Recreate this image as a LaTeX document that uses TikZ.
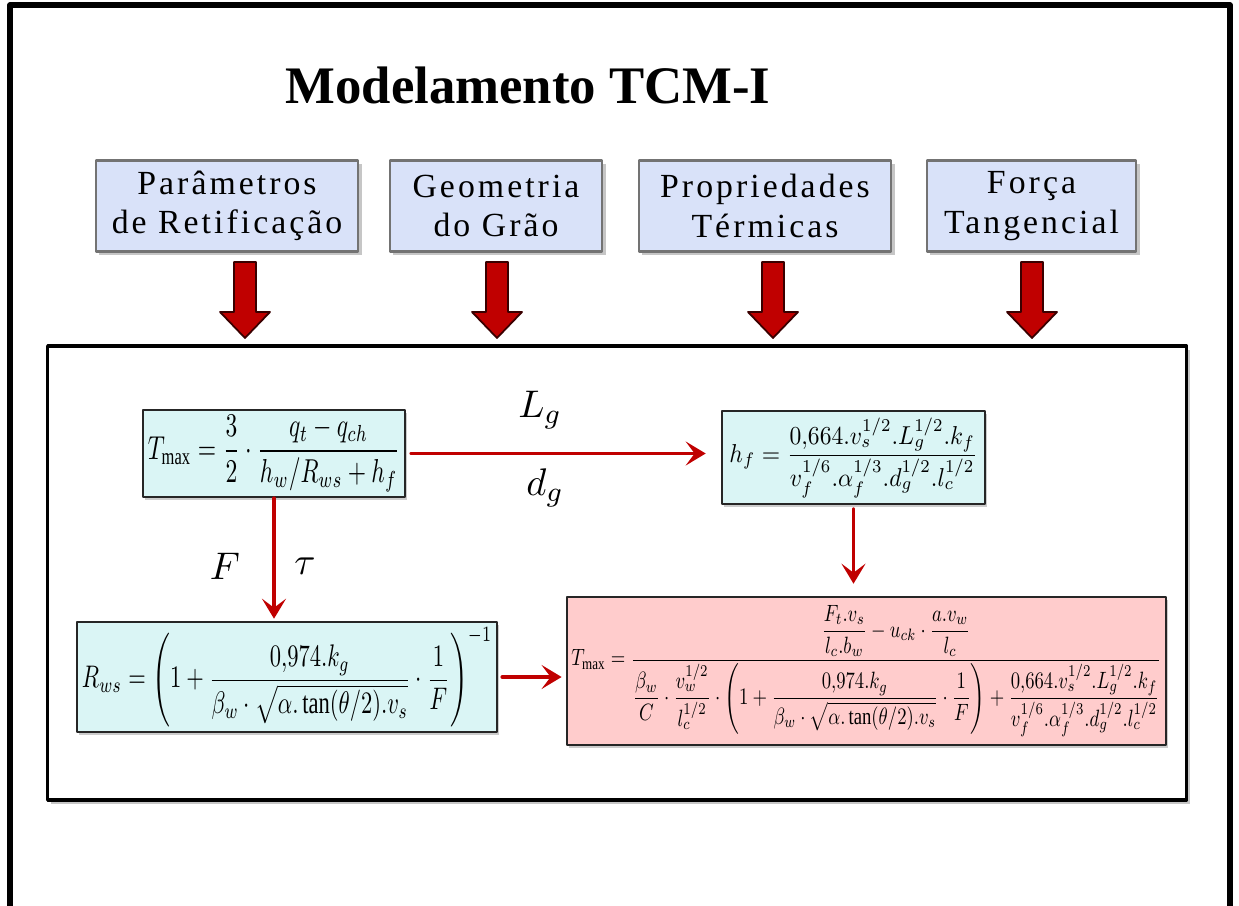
\documentclass[tikz,border=0pt]{standalone}
\usepackage{amsmath,amssymb}
\usepackage{graphicx}
\usepackage{fontspec}
\setmainfont{Liberation Serif}
\newfontfamily\boxfont[LetterSpace=9]{Liberation Serif}
\usetikzlibrary{arrows.meta,positioning,shadows}

\definecolor{boxblue}{RGB}{217,226,249}
\definecolor{eqcyan}{RGB}{218,245,245}
\definecolor{eqpink}{RGB}{255,204,204}
\definecolor{arrowred}{RGB}{192,0,0}

\begin{document}
\begin{tikzpicture}[x=0.01cm,y=-0.01cm,line cap=round,line join=round,
  topbox/.style={draw=black!55,fill=boxblue,line width=.8pt,inner sep=0pt,align=center,
    font=\boxfont\fontsize{9.6}{11.2}\selectfont,minimum height=0.91cm,
    drop shadow={shadow xshift=1pt,shadow yshift=-1pt,opacity=.45}},
  eqbox/.style={draw=black!85,line width=.7pt,inner sep=0pt,fill=eqcyan,
    drop shadow={shadow xshift=.6pt,shadow yshift=-.8pt,opacity=.4}},
  redarrow/.style={draw=arrowred,line width=1.1pt,-{Stealth[length=2mm,width=2.4mm,inset=0.9mm]}},
  blockarrow/.style={fill=arrowred,draw=black!70!arrowred,line width=.5pt},
  varlabel/.style={font=\fontsize{11}{13}\selectfont,inner sep=1pt}]
\path[use as bounding box] (0,0) rectangle (1239,906);
\draw[line width=1.5pt,line cap=butt] (10,906) -- (10,5) -- (1230,5) -- (1230,906);
\node[font=\bfseries\fontsize{15}{18}\selectfont] (title) at (528,85) {Modelamento TCM-I};
% input boxes
\node[topbox,minimum width=2.62cm] (params) at (227,206) {Parâmetros\\de Retificação};
\node[topbox,minimum width=2.12cm] (grain) at (496,206) {Geometria\\do Grão};
\node[topbox,minimum width=2.52cm] (thermal) at (765,206) {Propriedades\\Térmicas};
\node[topbox,minimum width=2.09cm] (force) at (1031.5,206) {Força\\Tangencial};
\foreach \x in {245,497,773,1032}
  \draw[blockarrow] (\x-11,262) -- (\x+11,262) -- (\x+11,312) -- (\x+25,312) -- (\x,338) -- (\x-25,312) -- (\x-11,312) -- cycle;
% model
\node[draw,line width=1pt,fill=white,minimum width=11.38cm,minimum height=4.54cm,
  drop shadow={shadow xshift=1pt,shadow yshift=-1.2pt,opacity=.45}] (model) at (617,573) {};
\node[eqbox,minimum width=2.62cm,minimum height=0.87cm] (tmax) at (274,453.5)
  {\resizebox*{2.52cm}{0.76cm}{$\displaystyle T_{\max}=\frac{3}{2}\cdot\frac{q_t-q_{ch}}{h_w/R_{ws}+h_f}$}};
\node[eqbox,minimum width=2.63cm,minimum height=0.93cm] (hf) at (853.5,457.5)
  {\resizebox*{2.48cm}{0.80cm}{$\displaystyle h_f=\frac{0{,}664.v_s^{1/2}.L_g^{1/2}.k_f}{v_f^{1/6}.\alpha_f^{1/3}.d_g^{1/2}.l_c^{1/2}}$}};
\node[eqbox,minimum width=4.20cm,minimum height=1.10cm] (rws) at (287,677)
  {\resizebox*{4.10cm}{1.00cm}{$\displaystyle R_{ws}=\left(1+\frac{0{,}974.k_g}{\beta_w\cdot\sqrt{\alpha.\tan(\theta/2).v_s}}\cdot\frac{1}{F}\right)^{-1}$}};
\node[eqbox,fill=eqpink,minimum width=5.99cm,minimum height=1.48cm] (tmaxfull) at (866.5,671)
  {\resizebox*{5.90cm}{1.32cm}{$\displaystyle T_{\max}=\frac{\dfrac{F_t.v_s}{l_c.b_w}-u_{ck}\cdot\dfrac{a.v_w}{l_c}}{\dfrac{\beta_w}{C}\cdot\dfrac{v_w^{1/2}}{l_c^{1/2}}\cdot\left(1+\dfrac{0{,}974.k_g}{\beta_w\cdot\sqrt{\alpha.\tan(\theta/2).v_s}}\cdot\dfrac{1}{F}\right)+\dfrac{0{,}664.v_s^{1/2}.L_g^{1/2}.k_f}{v_f^{1/6}.\alpha_f^{1/3}.d_g^{1/2}.l_c^{1/2}}}$}};
\draw[redarrow,shorten <=0.05cm,shorten >=0.15cm] (tmax.east) -- (tmax.east -| hf.west);
\draw[redarrow,shorten >=0.02cm] (tmax.south) -- (tmax.south |- rws.north);
\draw[redarrow,shorten <=0.04cm,shorten >=0.04cm] (rws.east) -- (rws.east -| tmaxfull.west);
\draw[redarrow,shorten <=0.04cm,shorten >=0.12cm] (hf.south) -- (hf.south |- tmaxfull.north);
\node[varlabel] (lg) at (540,410) {$L_g$};
\node[varlabel] (dg) at (545,488) {$d_g$};
\node[varlabel] (ft) at (225,566) {$F$};
\node[varlabel] (tau) at (305,566) {$\tau$};
\end{tikzpicture}
\end{document}
